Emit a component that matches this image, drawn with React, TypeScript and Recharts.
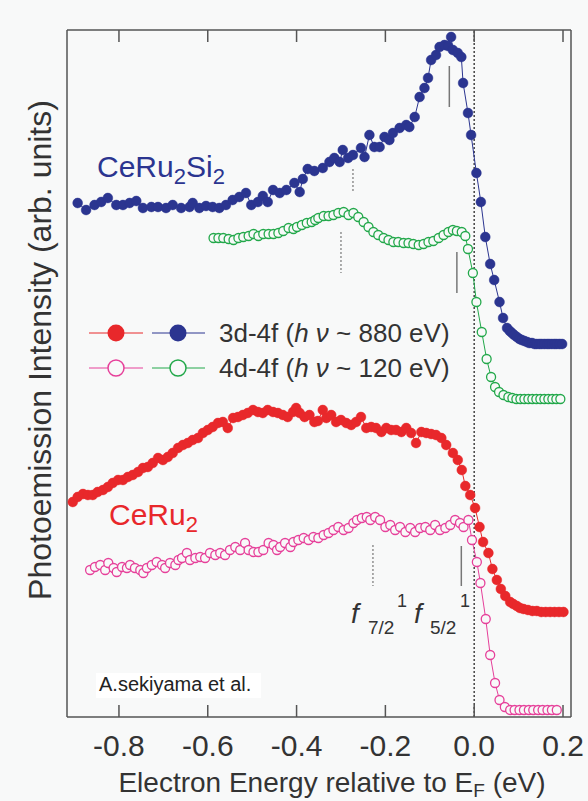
import { ComposedChart, Line, XAxis, YAxis, ReferenceLine } from "recharts";

// energy (eV) vs intensity (arb. units, offset traces)
const ceru2si2Hard: [number, number][] = [
  [-0.893, 514], [-0.874, 507], [-0.855, 512], [-0.84, 515], [-0.825, 519], [-0.806, 512],
  [-0.791, 512], [-0.776, 514], [-0.761, 516], [-0.746, 509], [-0.727, 510], [-0.712, 510],
  [-0.694, 509], [-0.679, 512], [-0.66, 509], [-0.641, 510], [-0.634, 514], [-0.619, 509],
  [-0.604, 511], [-0.589, 510], [-0.574, 509], [-0.559, 512], [-0.544, 517], [-0.529, 520],
  [-0.514, 524], [-0.502, 512], [-0.487, 515], [-0.476, 521], [-0.465, 515], [-0.453, 527],
  [-0.438, 524], [-0.423, 527], [-0.405, 534], [-0.393, 525], [-0.386, 538], [-0.375, 548],
  [-0.36, 546], [-0.341, 549], [-0.326, 555], [-0.315, 559], [-0.303, 555], [-0.296, 567],
  [-0.284, 559], [-0.273, 562], [-0.255, 569], [-0.247, 560], [-0.236, 582], [-0.225, 570],
  [-0.213, 570], [-0.202, 580], [-0.191, 577], [-0.183, 584], [-0.168, 589], [-0.153, 592],
  [-0.146, 590], [-0.134, 600], [-0.123, 620], [-0.112, 629], [-0.104, 639], [-0.097, 657],
  [-0.086, 662], [-0.078, 670], [-0.067, 672], [-0.059, 671], [-0.052, 680], [-0.048, 667],
  [-0.037, 664], [-0.029, 660], [-0.025, 634], [-0.014, 604], [-0.007, 582], [0.005, 544],
  [0.015, 515], [0.025, 480], [0.036, 453], [0.045, 437], [0.057, 415], [0.065, 399],
  [0.074, 389], [0.08, 386], [0.085, 384], [0.09, 382], [0.096, 380], [0.102, 378],
  [0.107, 377], [0.113, 376], [0.119, 375], [0.124, 374], [0.13, 374], [0.136, 373],
  [0.141, 373], [0.147, 373], [0.152, 373], [0.158, 373], [0.164, 373], [0.169, 373],
  [0.175, 373], [0.181, 373], [0.186, 373], [0.192, 373], [0.198, 373],
];

const ceru2si2Soft: [number, number][] = [
  [-0.587, 479], [-0.576, 479], [-0.565, 479], [-0.553, 478], [-0.542, 477], [-0.531, 479],
  [-0.52, 480], [-0.508, 481], [-0.497, 483], [-0.486, 481], [-0.475, 483], [-0.463, 483],
  [-0.452, 483], [-0.441, 484], [-0.43, 486], [-0.418, 489], [-0.407, 488], [-0.399, 490],
  [-0.388, 492], [-0.377, 494], [-0.366, 495], [-0.358, 497], [-0.351, 499], [-0.339, 501],
  [-0.328, 501], [-0.317, 502], [-0.306, 504], [-0.294, 505], [-0.283, 502], [-0.272, 504],
  [-0.261, 500], [-0.249, 495], [-0.238, 490], [-0.227, 485], [-0.216, 482], [-0.204, 479],
  [-0.193, 477], [-0.182, 475], [-0.171, 475], [-0.159, 474], [-0.148, 474], [-0.137, 473],
  [-0.125, 472], [-0.114, 473], [-0.103, 475], [-0.092, 476], [-0.08, 479], [-0.069, 482],
  [-0.058, 485], [-0.048, 487], [-0.039, 486], [-0.028, 485], [-0.02, 481], [-0.014, 468],
  [-0.003, 444], [0.005, 415], [0.017, 385], [0.028, 358], [0.038, 340], [0.047, 330],
  [0.056, 325], [0.066, 322], [0.077, 320], [0.086, 319], [0.095, 318], [0.104, 318],
  [0.113, 318], [0.122, 318], [0.131, 318], [0.14, 318], [0.149, 318], [0.158, 318],
  [0.167, 318], [0.176, 318], [0.185, 318], [0.194, 318],
];

const ceru2Hard: [number, number][] = [
  [-0.904, 215], [-0.893, 220], [-0.881, 223], [-0.87, 222], [-0.859, 222], [-0.848, 225],
  [-0.836, 227], [-0.825, 230], [-0.814, 234], [-0.802, 237], [-0.791, 237], [-0.78, 240],
  [-0.769, 242], [-0.757, 245], [-0.746, 249], [-0.735, 250], [-0.724, 254], [-0.712, 259],
  [-0.701, 257], [-0.69, 260], [-0.679, 264], [-0.667, 269], [-0.656, 272], [-0.645, 274],
  [-0.634, 277], [-0.622, 279], [-0.611, 284], [-0.6, 287], [-0.589, 290], [-0.577, 294],
  [-0.566, 295], [-0.555, 289], [-0.543, 299], [-0.532, 300], [-0.521, 302], [-0.51, 304],
  [-0.498, 307], [-0.487, 305], [-0.476, 304], [-0.465, 307], [-0.453, 305], [-0.442, 304],
  [-0.431, 302], [-0.42, 300], [-0.408, 305], [-0.401, 309], [-0.393, 304], [-0.382, 300],
  [-0.371, 302], [-0.36, 295], [-0.352, 296], [-0.341, 307], [-0.333, 299], [-0.322, 302],
  [-0.311, 295], [-0.3, 297], [-0.288, 294], [-0.277, 292], [-0.266, 295], [-0.255, 300],
  [-0.243, 289], [-0.232, 290], [-0.221, 289], [-0.209, 285], [-0.198, 289], [-0.187, 287],
  [-0.176, 287], [-0.164, 285], [-0.153, 289], [-0.142, 284], [-0.131, 274], [-0.119, 285],
  [-0.108, 284], [-0.097, 283], [-0.086, 282], [-0.074, 279], [-0.063, 272], [-0.048, 264],
  [-0.037, 257], [-0.028, 247], [-0.02, 231], [-0.009, 222], [0.002, 209], [0.012, 190],
  [0.02, 175], [0.032, 164], [0.041, 148], [0.051, 137], [0.06, 128], [0.07, 121],
  [0.081, 115], [0.088, 113], [0.096, 111], [0.103, 109], [0.111, 108], [0.121, 107],
  [0.131, 106], [0.141, 106], [0.151, 105], [0.161, 105], [0.171, 105], [0.181, 105],
  [0.191, 105], [0.201, 105],
];

const ceru2Soft: [number, number][] = [
  [-0.865, 147], [-0.854, 150], [-0.842, 152], [-0.831, 147], [-0.824, 154], [-0.812, 149],
  [-0.805, 145], [-0.793, 150], [-0.782, 149], [-0.775, 152], [-0.764, 149], [-0.752, 147],
  [-0.745, 144], [-0.737, 149], [-0.726, 152], [-0.715, 155], [-0.703, 152], [-0.696, 149],
  [-0.685, 154], [-0.673, 152], [-0.666, 157], [-0.658, 159], [-0.647, 164], [-0.64, 157],
  [-0.628, 159], [-0.617, 160], [-0.606, 159], [-0.595, 164], [-0.583, 162], [-0.572, 164],
  [-0.561, 162], [-0.55, 167], [-0.538, 170], [-0.527, 167], [-0.516, 174], [-0.508, 167],
  [-0.497, 165], [-0.486, 165], [-0.475, 167], [-0.463, 174], [-0.452, 172], [-0.444, 167],
  [-0.437, 170], [-0.426, 174], [-0.414, 170], [-0.407, 175], [-0.396, 177], [-0.384, 179],
  [-0.373, 177], [-0.362, 180], [-0.351, 179], [-0.339, 182], [-0.328, 184], [-0.317, 187],
  [-0.306, 190], [-0.294, 187], [-0.283, 189], [-0.272, 194], [-0.264, 197], [-0.253, 199],
  [-0.242, 200], [-0.234, 197], [-0.223, 200], [-0.212, 197], [-0.2, 190], [-0.189, 192],
  [-0.178, 187], [-0.167, 190], [-0.155, 185], [-0.144, 189], [-0.133, 185], [-0.122, 189],
  [-0.11, 190], [-0.099, 187], [-0.088, 192], [-0.077, 187], [-0.065, 189], [-0.054, 192],
  [-0.043, 197], [-0.032, 194], [-0.024, 190], [-0.013, 197], [-0.005, 177], [0.006, 155],
  [0.014, 134], [0.026, 98], [0.036, 62], [0.047, 34], [0.057, 17], [0.069, 10],
  [0.081, 7], [0.091, 7], [0.102, 7], [0.112, 7], [0.123, 7], [0.133, 7], [0.144, 7],
  [0.154, 7], [0.165, 7], [0.175, 7], [0.186, 7],
];

// peak markers: energy, from, to, dotted?
const markers: [number, number, number, boolean][] = [
  [-0.056, 651, 610, false],
  [-0.273, 548, 525, true],
  [-0.3, 485, 444, true],
  [-0.039, 465, 424, false],
  [-0.228, 172, 131, true],
  [-0.029, 171, 131, false],
];

const xTicks = [-0.8, -0.6, -0.4, -0.2, 0, 0.2];

const NAVY = "#2b3590";
const GREEN = "#22a84a";
const RED = "#e8282b";
const PINK = "#e6409a";
const AXIS = "#555";
const BG = "#f8f9f9";
const FONT = '"Liberation Sans", Arial, Helvetica, sans-serif';

const PLOT_TOP = 30;
const PLOT_BOTTOM = 717;

const toRows = (pts: [number, number][]) => pts.map(([e, v]) => ({ e, v }));

const BottomTick = (props: any) => {
  const { x, payload } = props;
  return (
    <g>
      <line x1={x} x2={x} y1={PLOT_BOTTOM} y2={PLOT_BOTTOM - 12} stroke={AXIS} strokeWidth={1.5} />
      <text x={x} y={756} textAnchor="middle" fontSize={30} fill="#333" fontFamily={FONT}>
        {Number(payload.value).toFixed(1)}
      </text>
    </g>
  );
};

const TopTick = (props: any) => {
  const { x } = props;
  return <line x1={x} x2={x} y1={PLOT_TOP} y2={PLOT_TOP + 12} stroke={AXIS} strokeWidth={1.5} />;
};

export default function App() {
  const series = [
    { data: toRows(ceru2si2Hard), color: NAVY, open: false },
    { data: toRows(ceru2si2Soft), color: GREEN, open: true },
    { data: toRows(ceru2Hard), color: RED, open: false },
    { data: toRows(ceru2Soft), color: PINK, open: true },
  ];

  return (
    <div style={{ position: "absolute", left: 0, top: 0, width: 588, height: 801, background: BG }}>
      <ComposedChart width={588} height={801} margin={{ top: 0, right: 0, bottom: 0, left: 0 }}>
        <XAxis
          xAxisId="bottom"
          dataKey="e"
          type="number"
          domain={[-0.917, 0.218]}
          allowDataOverflow
          ticks={xTicks}
          interval={0}
          height={84}
          tickLine={false}
          tick={<BottomTick />}
          axisLine={{ stroke: AXIS, strokeWidth: 1.5 }}
        />
        <XAxis
          xAxisId="top"
          orientation="top"
          dataKey="e"
          type="number"
          domain={[-0.917, 0.218]}
          allowDataOverflow
          ticks={xTicks}
          interval={0}
          height={30}
          tickLine={false}
          tick={<TopTick />}
          axisLine={{ stroke: AXIS, strokeWidth: 1.5 }}
        />
        <YAxis
          yAxisId="left"
          type="number"
          domain={[0, 687]}
          width={67}
          tick={false}
          tickLine={false}
          axisLine={{ stroke: AXIS, strokeWidth: 1.5 }}
        />
        <YAxis
          yAxisId="right"
          orientation="right"
          type="number"
          domain={[0, 687]}
          width={17}
          tick={false}
          tickLine={false}
          axisLine={{ stroke: AXIS, strokeWidth: 1.5 }}
        />
        <ReferenceLine
          xAxisId="bottom"
          yAxisId="left"
          x={0}
          stroke="#444"
          strokeWidth={1.5}
          strokeDasharray="2 2"
        />
        {markers.map(([e, y1, y2, dotted], i) => (
          <ReferenceLine
            key={`m-${i}`}
            xAxisId="bottom"
            yAxisId="left"
            segment={[
              { x: e, y: y1 },
              { x: e, y: y2 },
            ]}
            stroke="#777"
            strokeWidth={dotted ? 1.2 : 1.5}
            strokeDasharray={dotted ? "2 2" : undefined}
          />
        ))}
        {series.map((s, i) => (
          <Line
            key={`s-${i}`}
            xAxisId="bottom"
            yAxisId="left"
            data={s.data}
            dataKey="v"
            type="linear"
            stroke={s.color}
            strokeWidth={1}
            dot={{
              r: s.open ? 4.5 : 4.9,
              fill: s.open ? BG : s.color,
              stroke: s.color,
              strokeWidth: s.open ? 1.3 : 0.5,
            }}
            activeDot={false}
            isAnimationActive={false}
          />
        ))}
      </ComposedChart>

      <svg
        width={588}
        height={801}
        style={{ position: "absolute", left: 0, top: 0, pointerEvents: "none" }}
        fontFamily={FONT}
      >
        {/* axis titles */}
        <text x={332} y={792} textAnchor="middle" fontSize={28} fill="#333">
          Electron Energy relative to E
          <tspan fontSize={19} dy={5}>F</tspan>
          <tspan dy={-5}> (eV)</tspan>
        </text>
        <text
          transform="rotate(-90)"
          x={-350}
          y={51}
          textAnchor="middle"
          fontSize={32}
          fill="#333"
        >
          Photoemission Intensity (arb. units)
        </text>

        {/* sample labels */}
        <text x={97} y={177} fontSize={30} fill={NAVY}>
          CeRu<tspan fontSize={22} dy={7}>2</tspan>
          <tspan dy={-7}>Si</tspan>
          <tspan fontSize={22} dy={7}>2</tspan>
        </text>
        <text x={109} y={525} fontSize={30} fill={RED}>
          CeRu<tspan fontSize={22} dy={7}>2</tspan>
        </text>

        {/* legend */}
        <line x1={89} x2={143} y1={333} y2={333} stroke={RED} strokeWidth={1} />
        <circle cx={116} cy={333} r={8.5} fill={RED} />
        <line x1={152} x2={205} y1={333} y2={333} stroke={NAVY} strokeWidth={1} />
        <circle cx={178} cy={333} r={8.5} fill={NAVY} />
        <text x={219} y={342} fontSize={26} fill="#333">
          3d-4f (<tspan fontStyle="italic">h ν</tspan> ~ 880 eV)
        </text>
        <line x1={89} x2={143} y1={368} y2={368} stroke={PINK} strokeWidth={1} />
        <circle cx={116} cy={368} r={8} fill={BG} stroke={PINK} strokeWidth={1.5} />
        <line x1={152} x2={205} y1={368} y2={368} stroke={GREEN} strokeWidth={1} />
        <circle cx={178} cy={368} r={8} fill={BG} stroke={GREEN} strokeWidth={1.5} />
        <text x={219} y={377} fontSize={26} fill="#333">
          4d-4f (<tspan fontStyle="italic">h ν</tspan> ~ 120 eV)
        </text>

        {/* f-level labels */}
        <text x={351} y={623} fontSize={28} fill="#333">
          <tspan fontStyle="italic">f</tspan>
          <tspan x={368} y={634} fontSize={19}>7/2</tspan>
          <tspan x={397} y={607} fontSize={18}>1</tspan>
          <tspan x={414} y={623} fontStyle="italic">f</tspan>
          <tspan x={430} y={634} fontSize={19}>5/2</tspan>
          <tspan x={460} y={607} fontSize={18}>1</tspan>
        </text>

        {/* credit */}
        <rect x={96} y={673} width={165} height={25} fill="#fff" />
        <text x={99} y={691} fontSize={20} fill="#222">
          A.sekiyama et al.
        </text>
      </svg>
    </div>
  );
}
